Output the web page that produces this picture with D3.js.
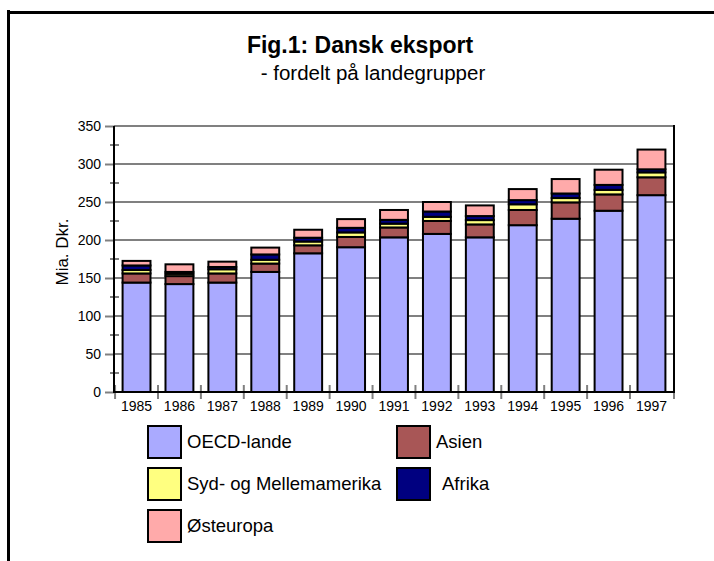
<!DOCTYPE html>
<html>
<head>
<meta charset="utf-8">
<script src="https://cdn.jsdelivr.net/npm/d3@7"></script>
<style>
  body { margin: 0; background: #fff; }
  text { font-family: "Liberation Sans", Arial, sans-serif; fill: #000; }
</style>
</head>
<body>
<div id="chart"></div>
<script>
// Dansk eksport fordelt paa landegrupper, mia. kr. (aflaest fra figuren)
const years = ["1985", "1986", "1987", "1988", "1989", "1990", "1991", "1992", "1993", "1994", "1995", "1996", "1997"];
const oecd = [144, 142, 144, 158, 182.5, 190.5, 203.5, 208, 203.5, 219.5, 228, 238.5, 259];
const asien = [12, 10.5, 12, 11, 10.5, 13.5, 13, 17, 17, 20, 21.5, 21.5, 23.5];
const sydamerika = [4.5, 3, 5.5, 5, 5, 6, 5, 5.5, 5.7, 7.5, 5.7, 6, 6.5];
const afrika = [6, 2.5, 3, 7, 5, 6, 5, 7, 5.3, 5.5, 6, 6.5, 4];
const oesteuropa = [6, 10, 7, 9, 10.5, 11.5, 13, 12.5, 14, 14.5, 19, 20, 26];
const seriesNames = ["OECD-lande", "Asien", "Syd- og Mellemamerika", "Afrika", "Østeuropa"];
const colors = ["#aaaaff", "#a85656", "#ffff80", "#000080", "#ffaaaa"];
const yTicks = [0, 50, 100, 150, 200, 250, 300, 350];

const rows = years.map((y, i) => ({
    year: y,
    "OECD-lande": oecd[i],
    "Asien": asien[i],
    "Syd- og Mellemamerika": sydamerika[i],
    "Afrika": afrika[i],
    "Østeuropa": oesteuropa[i]
}));

const svg = d3.select("#chart").append("svg")
    .attr("width", 714)
    .attr("height", 561);

// ramme
svg.append("line").attr("x1", 8.5).attr("x2", 8.5).attr("y1", 10).attr("y2", 561)
    .attr("stroke", "#000").attr("stroke-width", 3);
svg.append("line").attr("x1", 7).attr("x2", 714).attr("y1", 12.5).attr("y2", 12.5)
    .attr("stroke", "#000").attr("stroke-width", 3);

// titel
svg.append("text").attr("x", 360).attr("y", 53).attr("text-anchor", "middle")
    .style("font-size", "23px").style("font-weight", "bold").text("Fig.1: Dansk eksport");
svg.append("text").attr("x", 373).attr("y", 80).attr("text-anchor", "middle")
    .style("font-size", "20.5px").text("- fordelt på landegrupper");

const plotLeft = 114, plotRight = 674, plotTop = 126, plotBottom = 392;

const x = d3.scaleBand().domain(years).range([plotLeft, plotRight]).paddingInner(0.35).paddingOuter(0.2);
const y = d3.scaleLinear().domain([0, 350]).range([plotBottom, plotTop]);

// gitterlinjer
svg.append("g").selectAll("line").data(yTicks.slice(1)).join("line")
    .attr("x1", plotLeft).attr("x2", plotRight)
    .attr("y1", d => y(d)).attr("y2", d => y(d))
    .attr("stroke", "#808080").attr("stroke-width", 2);

// y-akse
const yAxis = svg.append("g").attr("transform", `translate(${plotLeft},0)`)
    .call(d3.axisLeft(y).tickValues(yTicks).tickSize(9).tickPadding(4));
yAxis.select(".domain").remove();
yAxis.selectAll(".tick line").attr("stroke", "#808080").attr("stroke-width", 2);
yAxis.selectAll(".tick text").style("font-size", "14px").style("font-family", "Liberation Sans, Arial, sans-serif");

// mellemstreger paa y-aksen
svg.append("g").selectAll("line").data(d3.range(25, 350, 50)).join("line")
    .attr("x1", plotLeft - 4).attr("x2", plotLeft + 5)
    .attr("y1", d => y(d)).attr("y2", d => y(d))
    .attr("stroke", "#808080").attr("stroke-width", 2);

// x-akse streger mellem kategorier
const step = x.step();
const gaps = years.map(d => x(d) - step * x.paddingInner() / 2).concat([plotRight]);
svg.append("g").selectAll("line").data(gaps).join("line")
    .attr("x1", d => d).attr("x2", d => d)
    .attr("y1", plotBottom - 7).attr("y2", plotBottom + 7)
    .attr("stroke", "#808080").attr("stroke-width", 2);

const xAxis = svg.append("g").attr("transform", `translate(0,${plotBottom})`)
    .call(d3.axisBottom(x).tickSize(0).tickPadding(9));
xAxis.select(".domain").remove();
xAxis.selectAll(".tick text").style("font-size", "14px").style("font-family", "Liberation Sans, Arial, sans-serif");

// stablede soejler
const stack = d3.stack().keys(seriesNames)(rows);
svg.append("g").selectAll("g").data(stack).join("g")
    .attr("fill", (d, i) => colors[i])
    .selectAll("rect").data(d => d).join("rect")
    .attr("x", d => x(d.data.year))
    .attr("width", x.bandwidth())
    .attr("y", d => y(d[1]))
    .attr("height", d => y(d[0]) - y(d[1]))
    .attr("stroke", "#000").attr("stroke-width", 2);

// akselinjer
svg.append("line").attr("x1", plotLeft).attr("x2", plotLeft).attr("y1", plotTop).attr("y2", plotBottom + 1)
    .attr("stroke", "#000").attr("stroke-width", 2);
svg.append("line").attr("x1", plotLeft).attr("x2", plotRight).attr("y1", plotBottom).attr("y2", plotBottom)
    .attr("stroke", "#000").attr("stroke-width", 2);
svg.append("line").attr("x1", plotRight).attr("x2", plotRight).attr("y1", plotTop - 1).attr("y2", plotBottom + 1)
    .attr("stroke", "#000").attr("stroke-width", 2);

// y-akse titel
svg.append("text").attr("transform", "translate(68,252) rotate(-90)")
    .attr("text-anchor", "middle").style("font-size", "17px").text("Mia. Dkr.");

// forklaring
const legendPos = [[148, 426], [397, 426], [148, 468], [397, 468], [148, 510]];
const legend = svg.append("g").selectAll("g").data(seriesNames).join("g")
    .attr("transform", (d, i) => `translate(${legendPos[i][0]},${legendPos[i][1]})`);
legend.append("rect").attr("width", 33).attr("height", 32)
    .attr("fill", (d, i) => colors[i]).attr("stroke", "#000").attr("stroke-width", 2);
legend.append("text").attr("x", (d, i) => i === 3 ? 45 : 39).attr("y", 22)
    .style("font-size", "18.5px").text(d => d);
</script>
</body>
</html>
